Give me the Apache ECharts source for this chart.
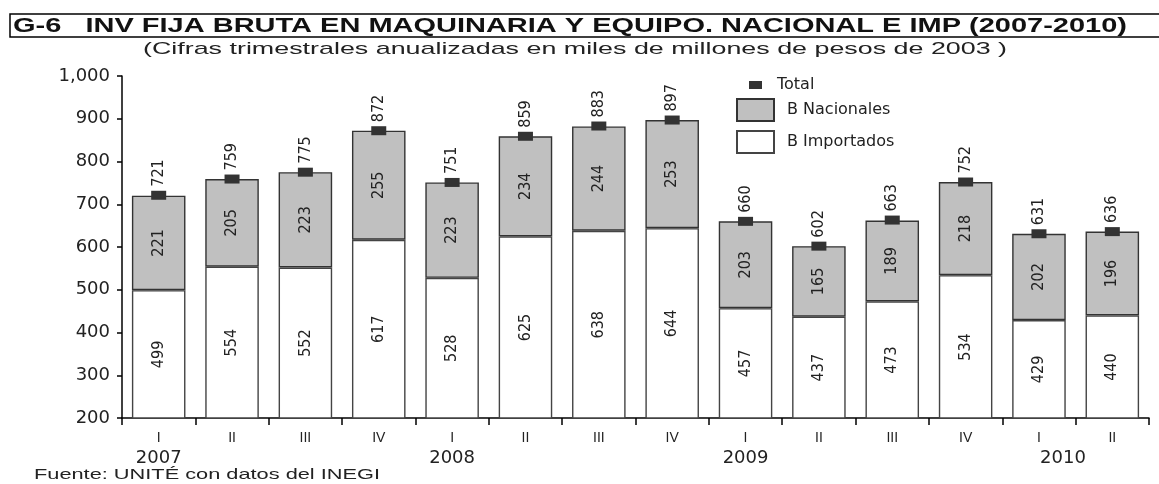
<!DOCTYPE html>
<html>
<head>
<meta charset="utf-8">
<script src="https://cdn.jsdelivr.net/npm/echarts@6/dist/echarts.min.js"></script>
<style>
html,body{margin:0;padding:0;background:#fff;}
#c{width:1159px;height:484px;}
</style>
</head>
<body>
<div id="c"></div>
<script>
var quarters = ['I','II','III','IV','I','II','III','IV','I','II','III','IV','I','II'];
var years = ['2007','','','','2008','','','','2009','','','','2010',''];
var importados = [499,554,552,617,528,625,638,644,457,437,473,534,429,440];
var nacionales = [221,205,223,255,223,234,244,253,203,165,189,218,202,196];
var totales = [721,759,775,872,751,859,883,897,660,602,663,752,631,636];
var yTicks = [200,300,400,500,600,700,800,900,1000];

var titleText = 'G-6   INV FIJA BRUTA EN MAQUINARIA Y EQUIPO. NACIONAL E IMP (2007-2010)';
var subText = '(Cifras trimestrales anualizadas en miles de millones de pesos de 2003 )';
var srcText = 'Fuente: UNITÉ con datos del INEGI';

var narrow = "'DejaVu Sans Condensed','Liberation Sans',sans-serif";
var sans = "'Liberation Sans',Arial,sans-serif";
var wide = "'DejaVu Sans','Liberation Sans',sans-serif";

var ctx = document.createElement('canvas').getContext('2d');
function fitScale(text, font, target){
  ctx.font = font;
  return target / ctx.measureText(text).width;
}

var cats = quarters.map(function(q,i){ return q + '|' + i; });

var chart = echarts.init(document.getElementById('c'));
chart.setOption({
  animation: false,
  backgroundColor: '#fff',
  grid: {left: 122, right: 10, top: 76, bottom: 66},
  legend: [
    {data: [{name: 'Total', icon: 'rect'}], orient: 'vertical', left: 744, top: 72, itemWidth: 13, itemHeight: 8,
     textStyle: {fontFamily: wide, fontSize: 16, color: '#222', padding: [0,0,0,10]}},
    {data: [{name: 'B Nacionales', icon: 'rect'}, {name: 'B Importados', icon: 'rect'}], orient: 'vertical', left: 731, top: 93,
     itemWidth: 37, itemHeight: 22, itemGap: 8,
     textStyle: {fontFamily: wide, fontSize: 16, color: '#222', padding: [0,0,0,8]}}
  ],
  xAxis: {
    type: 'category',
    data: cats,
    axisLine: {lineStyle: {color: '#000', width: 1.5}},
    axisTick: {show: true, length: 7, lineStyle: {color: '#000', width: 1.5}},
    axisLabel: {
      margin: 10,
      interval: 0,
      formatter: function(v){
        var i = +v.split('|')[1];
        var s = '{q|' + quarters[i] + '}';
        if (years[i]) s += '\n' + (years[i] === '2010' ? '{y2|' + years[i] + '}' : '{y|' + years[i] + '}');
        return s;
      },
      rich: {
        q: {fontFamily: sans, fontSize: 14, color: '#222', height: 20, lineHeight: 20},
        y: {fontFamily: wide, fontSize: 18, color: '#222', height: 20, lineHeight: 20},
        y2: {fontFamily: wide, fontSize: 18, color: '#222', height: 20, lineHeight: 20, padding: [0,0,0,48]}
      }
    }
  },
  yAxis: {
    type: 'value', min: 200, max: 1000, interval: 100,
    splitLine: {show: false},
    axisLine: {show: true, lineStyle: {color: '#000', width: 1.5}},
    axisTick: {show: true, length: 5, lineStyle: {color: '#000', width: 1.5}},
    axisLabel: {
      fontFamily: wide, fontSize: 18, color: '#222', margin: 12,
      formatter: function(v){ return v >= 1000 ? (Math.floor(v/1000) + ',' + ('00' + (v%1000)).slice(-3)) : String(v); }
    }
  },
  series: [
    {name: 'B Importados', type: 'bar', stack: 's', barWidth: '73%', data: importados,
     itemStyle: {color: '#fff', borderColor: '#444', borderWidth: 1.4},
     label: {show: true, position: 'inside', rotate: 90, fontFamily: narrow, fontSize: 16, color: '#222'}},
    {name: 'B Nacionales', type: 'bar', stack: 's', barWidth: '73%', data: nacionales,
     itemStyle: {color: '#c0c0c0', borderColor: '#333', borderWidth: 1.4},
     label: {show: true, position: 'inside', rotate: 90, fontFamily: narrow, fontSize: 16, color: '#222'}},
    {name: 'Total', type: 'scatter', data: totales, symbol: 'rect', symbolSize: [15, 9], z: 5,
     itemStyle: {color: '#333', opacity: 1},
     label: {show: true, position: 'top', rotate: 90, align: 'left', verticalAlign: 'middle', distance: 4,
       fontFamily: narrow, fontSize: 16, color: '#222'}}
  ],
  graphic: [
    {type: 'rect', shape: {x: 10, y: 14, width: 1160, height: 23}, style: {fill: 'none', stroke: '#000', lineWidth: 1.5}},
    {type: 'text', x: 13, y: 16, scaleX: fitScale(titleText, 'bold 20px ' + sans, 1114),
     style: {text: titleText, fontFamily: sans, fontWeight: 'bold', fontSize: 20, fill: '#111'}},
    {type: 'text', x: 143, y: 41, scaleX: fitScale(subText, '17px ' + sans, 864),
     style: {text: subText, fontFamily: sans, fontSize: 17, fill: '#222'}},
    {type: 'text', x: 34, y: 467, scaleX: fitScale(srcText, '15px ' + sans, 346),
     style: {text: srcText, fontFamily: sans, fontSize: 15, fill: '#222'}}
  ]
});
</script>
</body>
</html>
